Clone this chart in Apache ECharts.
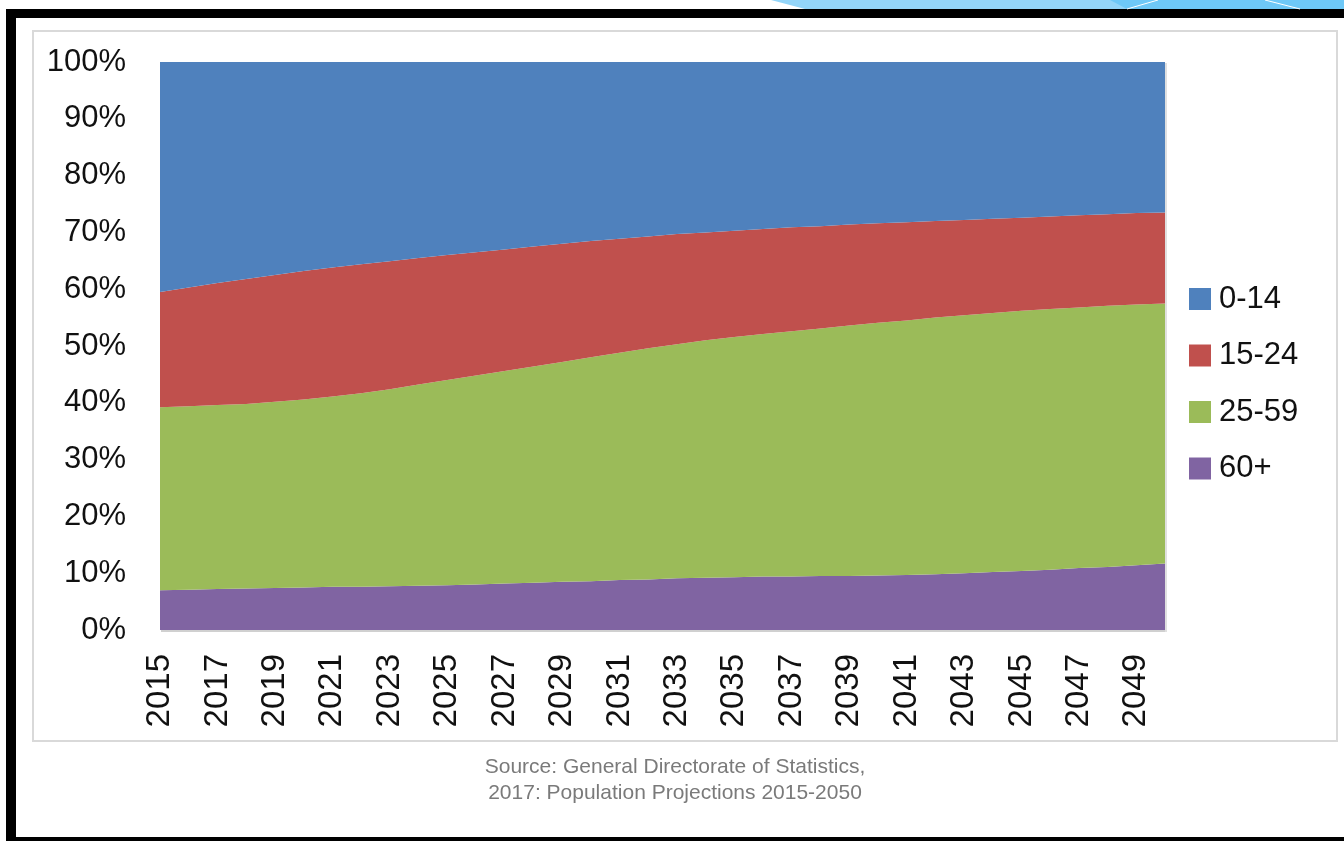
<!DOCTYPE html>
<html>
<head>
<meta charset="utf-8">
<script src="https://cdn.jsdelivr.net/npm/echarts@6/dist/echarts.min.js"></script>
<style>
html,body{margin:0;padding:0;background:#fff;}
#chart{width:1344px;height:841px;}
</style>
</head>
<body>
<div id="chart"></div>
<script>
// Years (categories)
const years = [2015,2016,2017,2018,2019,2020,2021,2022,2023,2024,2025,2026,2027,2028,2029,2030,2031,2032,2033,2034,2035,2036,2037,2038,2039,2040,2041,2042,2043,2044,2045,2046,2047,2048,2049,2050].map(String);

// Share of population by age group (%)
const age0_14  = [40.5,39.7,38.9,38.2,37.5,36.8,36.2,35.6,35.1,34.5,34.0,33.5,33.0,32.5,32.0,31.5,31.1,30.7,30.3,30.0,29.7,29.4,29.1,28.9,28.6,28.4,28.2,28.0,27.8,27.6,27.4,27.2,27.0,26.8,26.6,26.5];
const age15_24 = [20.3,20.9,21.5,22.0,22.3,22.6,22.7,22.7,22.5,22.3,22.0,21.7,21.4,21.1,20.8,20.5,20.1,19.7,19.4,19.0,18.7,18.5,18.3,18.0,17.8,17.5,17.3,17.0,16.8,16.6,16.4,16.3,16.2,16.1,16.1,16.0];
const age25_59 = [32.2,32.3,32.4,32.5,32.8,33.1,33.5,34.1,34.7,35.4,36.1,36.8,37.4,38.1,38.7,39.4,40.0,40.7,41.2,41.8,42.3,42.7,43.2,43.6,44.1,44.5,44.8,45.2,45.4,45.6,45.8,45.9,45.9,46.0,45.9,45.8];
const age60p   = [7.0,7.1,7.2,7.3,7.4,7.5,7.6,7.6,7.7,7.8,7.9,8.0,8.2,8.3,8.5,8.6,8.8,8.9,9.1,9.2,9.3,9.4,9.4,9.5,9.5,9.6,9.7,9.8,10.0,10.2,10.4,10.6,10.9,11.1,11.4,11.7];

const groupNames = ['0-14','15-24','25-59','60+'];
const colors = {'0-14':'#4F81BD','15-24':'#C0504D','25-59':'#9BBB59','60+':'#8064A2'};
const sourceText = 'Source: General Directorate of Statistics,\n2017: Population Projections 2015-2050';

const FONT = '"Liberation Sans", Arial, sans-serif';

function areaSeries(name, data){
  return {
    name: name, type: 'line', stack: 'total', data: data,
    showSymbol: false, symbol: 'none', smooth: false,
    lineStyle: {width: 0, color: colors[name]},
    itemStyle: {color: colors[name]},
    areaStyle: {color: colors[name], opacity: 1},
    emphasis: {disabled: true}
  };
}

const chart = echarts.init(document.getElementById('chart'), null, {renderer: 'canvas'});
chart.setOption({
  animation: false,
  backgroundColor: '#ffffff',
  title: {
    text: sourceText,
    left: 670, top: 749, textAlign: 'center',
    textStyle: {fontFamily: FONT, fontSize: 21, fontWeight: 'normal', color: '#7a7a7a', lineHeight: 26}
  },
  legend: {
    data: groupNames,
    orient: 'vertical',
    left: 1184, top: 277,
    itemWidth: 22, itemHeight: 22, itemGap: 22.5,
    icon: 'rect',
    textStyle: {fontFamily: FONT, fontSize: 31, color: '#111', lineHeight: 34, padding: [0,0,0,3]}
  },
  grid: {left: 160, right: 179, top: 62, bottom: 211, containLabel: false},
  xAxis: {
    type: 'category', data: years, boundaryGap: false,
    axisLine: {show: false}, axisTick: {show: false},
    axisLabel: {rotate: 90, interval: 1, margin: 24, fontFamily: FONT, fontSize: 33, color: '#111'},
    splitLine: {show: false}
  },
  yAxis: {
    type: 'value', min: 0, max: 100, interval: 10,
    axisLine: {show: false}, axisTick: {show: false},
    axisLabel: {formatter: '{value}%', margin: 34, fontFamily: FONT, fontSize: 31, color: '#111'},
    splitLine: {show: false}
  },
  series: [
    areaSeries('60+', age60p),
    areaSeries('25-59', age25_59),
    areaSeries('15-24', age15_24),
    areaSeries('0-14', age0_14)
  ],
  graphic: [
    // decorative blue banner at top right
    {type: 'polygon', shape: {points: [[771,0],[1344,0],[1344,9],[805,9]]}, style: {fill: '#93D5F9'}, z: 10},
    {type: 'polygon', shape: {points: [[1110,0],[1344,0],[1344,9],[1127,9]]}, style: {fill: '#6EC8F7'}, z: 10},
    {type: 'line', shape: {x1: 1127, y1: 9, x2: 1158, y2: 0}, style: {stroke: '#ffffff', lineWidth: 1}, z: 11},
    {type: 'line', shape: {x1: 1265, y1: 0, x2: 1300, y2: 9}, style: {stroke: '#ffffff', lineWidth: 1}, z: 11},
    // black frame
    {type: 'rect', shape: {x: 6, y: 9, width: 1338, height: 9}, style: {fill: '#000'}, z: 10},
    {type: 'rect', shape: {x: 6, y: 9, width: 10, height: 832}, style: {fill: '#000'}, z: 10},
    {type: 'rect', shape: {x: 6, y: 837, width: 1338, height: 4}, style: {fill: '#000'}, z: 10},
    // chart box border
    {type: 'rect', shape: {x: 33, y: 31, width: 1304, height: 710}, style: {fill: 'none', stroke: '#d9d9d9', lineWidth: 2}, z: -1},
    // subtle plot shadow
    {type: 'rect', shape: {x: 161, y: 630, width: 1005, height: 2}, style: {fill: '#d0d0d0'}, z: -1},
    {type: 'rect', shape: {x: 1165, y: 63, width: 2, height: 569}, style: {fill: '#e0e0e0'}, z: -1}
  ]
});
</script>
</body>
</html>
